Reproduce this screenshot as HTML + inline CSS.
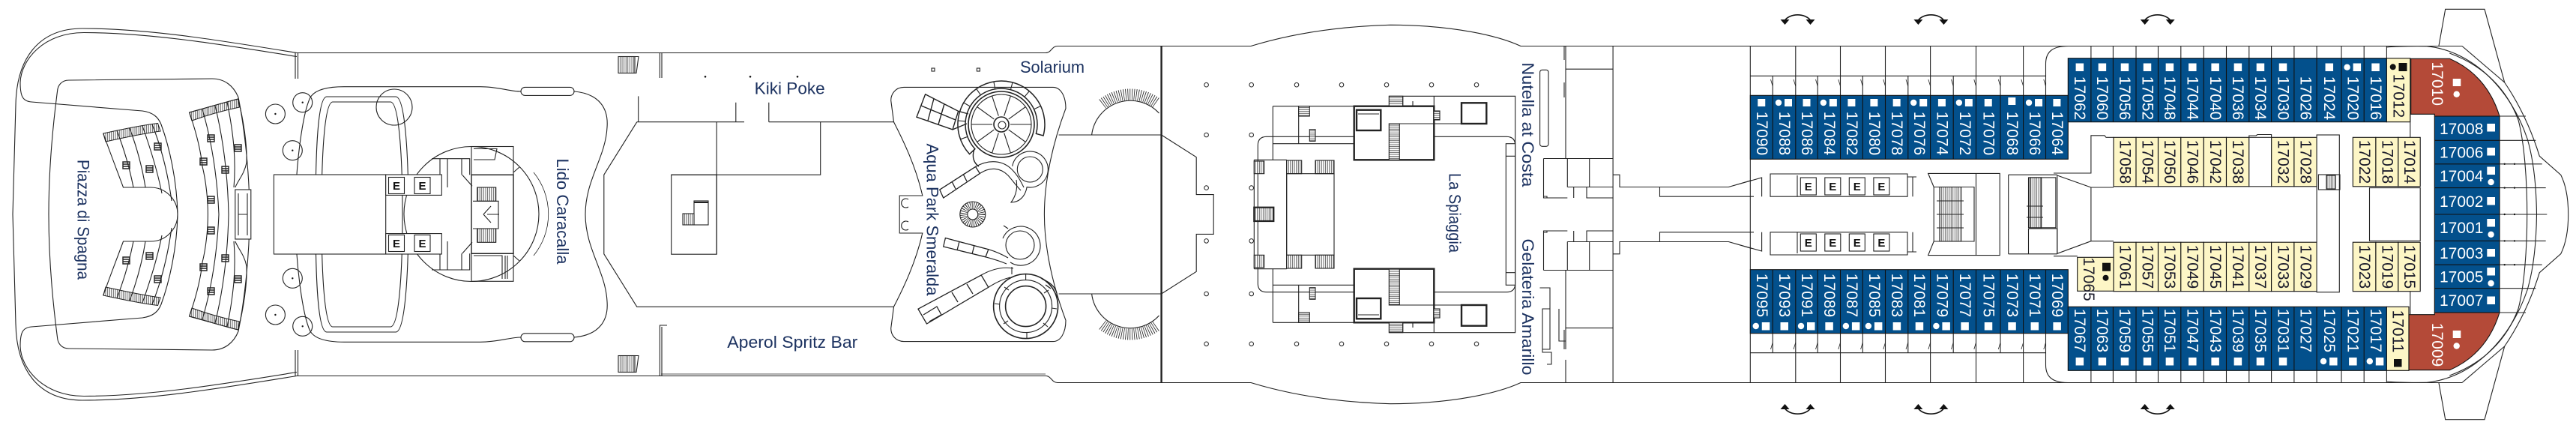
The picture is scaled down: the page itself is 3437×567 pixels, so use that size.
<!DOCTYPE html>
<html><head><meta charset="utf-8">
<style>
html,body{margin:0;padding:0;background:#fff}
svg{display:block}
.l{fill:none;stroke:#222;stroke-width:1.1}
.k{stroke-width:2.6}
.f{fill:#fff}
.lb{fill:#1c3260;font-family:"Liberation Sans",sans-serif;font-size:22px}
.cw{fill:#fff;font-family:"Liberation Sans",sans-serif;font-size:21px}
.cd{fill:#1a1a2a;font-family:"Liberation Sans",sans-serif;font-size:21px}
.e{fill:#111;font-family:"Liberation Sans",sans-serif;font-size:15px;font-weight:bold}
.w{fill:#fff;stroke:none}
.b{fill:#111;stroke:none}
</style></head><body>
<svg width="3437" height="567" viewBox="0 0 3437 567" xmlns="http://www.w3.org/2000/svg">
<defs>
<pattern id="hv" width="2.6" height="10" patternUnits="userSpaceOnUse"><rect width="2.6" height="10" fill="#fff"/><line x1="0.6" y1="0" x2="0.6" y2="10" stroke="#222" stroke-width="0.7"/></pattern>
<pattern id="hh" width="10" height="2.6" patternUnits="userSpaceOnUse"><rect width="10" height="2.6" fill="#fff"/><line x1="0" y1="0.6" x2="10" y2="0.6" stroke="#222" stroke-width="0.7"/></pattern>
</defs>
<rect width="3437" height="567" fill="#fff"/>

<!-- ============ STERN ============ -->
<g class="l">
<path d="M396,70.5 C300,55 200,38 110,38 C50,38 22,80 21,140 L17,286 L21,432 C22,492 50,534 110,534 C200,534 300,517 396,501.5"/>
<path d="M396,75.5 C300,60 200,43.5 112,43.5 C58,43.5 28,80 27,110 C27,128 30,135 42,136 L190,148 C204,150 211,156 215,166 C226,196 236,240 237,286 C236,332 226,376 215,406 C211,416 204,422 190,424 L42,436 C30,437 27,444 27,462 C28,492 58,528.5 112,528.5 C200,528.5 300,512 396,496.5"/>
<path d="M92,107 L283,105 C300,105 312,115 318,130 C326,170 333,230 333,286 C333,342 326,402 318,442 C312,457 300,467 283,467 L92,465 C82,465 77,458 76.5,450 C70,400 65,340 65,286 C65,232 70,172 76.5,122 C77,114 82,107 92,107 Z"/>
<!-- left stand -->
<path d="M137.8,178 C165,172 190,167 210.5,164.5 L214,175 C192,178 168,183 141,189 Z" fill="url(#hv)"/>
<path d="M137.8,394 C165,400 190,405 210.5,407.5 L214,397 C192,394 168,389 141,383 Z" fill="url(#hv)"/>
<path d="M137.8,178 C147,204 156,227 164.5,250 L201,250 A36,36 0 0 1 201,322 L164.5,322 C156,345 147,368 137.8,394"/>
<path d="M156,174.5 C166,200 173,225 178,250 M173,171 C183,198 190,224 194,250 M190,168 C200,196 210,228 216,258 M203,166 C215,196 224,232 229,268"/>
<path d="M156,397.5 C166,372 173,347 178,322 M173,401 C183,374 190,348 194,322 M190,404 C200,376 210,344 216,314 M203,406 C215,376 224,340 229,304"/>
<!-- right stand -->
<path d="M252.6,150 C275,144 298,137 317.6,132 L319.5,143 C300,147 278,153 256,161 Z" fill="url(#hv)"/>
<path d="M252.6,422 C275,428 298,435 317.6,440 L319.5,429 C300,425 278,419 256,411 Z" fill="url(#hv)"/>
<path d="M313.8,250 C318,240 326,232 329,217 C330,195 325,160 317.6,132 C298,137 275,144 252.6,150 C262,177 268,202 270,222 C275,242 277.4,267 277.4,286 C277.4,305 275,330 270,350 C268,370 262,395 252.6,422 C275,428 298,435 317.6,440 C325,412 330,377 329,355 C326,340 318,332 313.8,322"/>
<path d="M270,146 C283,190 290,240 292,286 C290,332 283,382 270,426 M287,141 C299,190 304,240 305,286 C304,332 299,382 287,431 M303,136 C312,180 315,215 312,250 M312,322 C315,357 312,392 303,436"/>
<rect x="313.8" y="253" width="21" height="66" class="f"/>
<path d="M318,258 V314 M330,258 V314 M318,286 H330"/>
<!-- seats -->
<g stroke-width="1.4">
<path d="M164,216 h9 v9 h-9 z M164,219 h9 M164,222 h9 M195,221 h9 v9 h-9 z M195,224 h9 M195,227 h9 M206,191 h9 v9 h-9 z M206,194 h9 M206,197 h9"/>
<path d="M164,343 h9 v9 h-9 z M164,346 h9 M164,349 h9 M195,337 h9 v9 h-9 z M195,340 h9 M195,343 h9 M206,368 h9 v9 h-9 z M206,371 h9 M206,374 h9"/>
<path d="M277,180 h9 v9 h-9 z M277,183 h9 M277,186 h9 M267,211 h9 v9 h-9 z M267,214 h9 M267,217 h9 M296,222 h9 v9 h-9 z M296,225 h9 M296,228 h9 M313,193 h9 v9 h-9 z M313,196 h9 M313,199 h9 M277,262 h9 v9 h-9 z M277,265 h9 M277,268 h9"/>
<path d="M277,303 h9 v9 h-9 z M277,306 h9 M277,309 h9 M267,352 h9 v9 h-9 z M267,355 h9 M267,358 h9 M296,340 h9 v9 h-9 z M296,343 h9 M296,346 h9 M313,368 h9 v9 h-9 z M313,371 h9 M313,374 h9 M277,384 h9 v9 h-9 z M277,387 h9 M277,390 h9"/>
</g>
<!-- tables -->
<circle cx="367.4" cy="152" r="13"/><circle cx="403.7" cy="136.7" r="13"/><circle cx="390.3" cy="200.7" r="13"/>
<circle cx="390.3" cy="371.3" r="13"/><circle cx="367.4" cy="420" r="13"/><circle cx="403.7" cy="435.3" r="13"/>
<path d="M394,70.5 V105 M397.5,71 V105 M394,467 V501.5 M397.5,467 V501"/>
</g>
<g class="b"><circle cx="367.4" cy="152" r="1.2"/><circle cx="403.7" cy="136.7" r="1.2"/><circle cx="390.3" cy="200.7" r="1.2"/><circle cx="390.3" cy="371.3" r="1.2"/><circle cx="367.4" cy="420" r="1.2"/><circle cx="403.7" cy="435.3" r="1.2"/></g>
<text class="lb" transform="translate(111,293) rotate(90)" text-anchor="middle" dominant-baseline="central" textLength="160" lengthAdjust="spacingAndGlyphs">Piazza di Spagna</text>

<!-- ============ HULL AFT / MID ============ -->
<g class="l">
<path d="M396,70.5 H1395 C1403,70.5 1403,61.5 1411,61.5 H1669 C1700,52 1760,36 1855,33.3 C1940,33.5 2000,48 2029,61.5 H3285"/>
<path d="M396,501.5 H1395 C1403,501.5 1403,510.5 1411,510.5 H1669 C1700,520 1760,536 1855,538.7 C1940,538.5 2000,524 2029,510.5 H3285"/>
<path d="M882,499 H1395" stroke-width="0.8"/>

<!-- Lido pool area -->
<path d="M459,115.7 L641,115.7 C665,115.7 680,122 695,122 M766,122 C800,125 812,145 810,170 C808,210 781,240 781,286 C781,332 808,362 810,402 C812,427 800,447 766,450 M695,450 C680,450 665,456.3 641,456.3 L459,456.3 C435,456.3 420,452 414,442 C404,422 394,352 394,286 C394,220 404,150 414,130 C420,120 435,115.7 459,115.7"/>
<rect x="695" y="116.4" width="71" height="11" rx="5.5"/>
<rect x="695" y="444.8" width="71" height="11" rx="5.5"/>
<path d="M436,129 L528,129 C540,129 545,200 545,286 C545,372 540,443 528,443 L436,443 C424,443 421,372 421,286 C421,200 424,129 436,129 Z"/>
<path d="M444,136 L521,136 C532,136 537,205 537,286 C537,367 532,436 521,436 L444,436 C433,436 429,367 429,286 C429,205 433,136 444,136 Z"/>
<circle cx="526" cy="143" r="24"/>
<circle cx="629" cy="285.5" r="90" class="f"/>
<path d="M712,230 A88,88 0 0 1 712,341" stroke-width="0.8"/>
<rect x="629" y="195.5" width="56" height="37.8"/>
<path d="M632,198.5 H663 L660,213 H632"/>
<rect x="629" y="233.3" width="56" height="105" stroke-width="1.4"/>
<rect x="629" y="338.3" width="56" height="37"/>
<path d="M632,341 H670 V372 M674,341 V372 M677,341 V372"/>
<rect x="636.7" y="250" width="25" height="18.3" fill="url(#hv)"/>
<rect x="636.7" y="305" width="25" height="18.3" fill="url(#hv)"/>
<path d="M631,268.3 H665 V305 H631 M645,286 L655,275 M645,286 L655,297 M650,286 H666 M685,230 L693,223 M685,341 L693,348"/>
<path d="M616.7,233.3 L630,248.3 M616.7,338.3 L630,323.3 M576,211.7 H626.7 V233.3 M576,360 H626.7 V338.3 M587,211.7 V250 M597,211.7 V250 M616,211.7 V233.3 M587,322 V360 M597,322 V360 M616,338.3 V360"/>
<rect x="365.4" y="233" width="149.3" height="106" class="f"/>
<rect x="514.7" y="233" width="74.6" height="27.4" class="f"/>
<rect x="514.7" y="311.6" width="74.6" height="27.4" class="f"/>
<rect x="518.5" y="236.5" width="21" height="22" class="f"/><rect x="553" y="236.5" width="21" height="22" class="f"/>
<rect x="518.5" y="313.5" width="21" height="22" class="f"/><rect x="553" y="313.5" width="21" height="22" class="f"/>
</g>
<text class="e" x="529" y="253" text-anchor="middle">E</text><text class="e" x="563.5" y="253" text-anchor="middle">E</text>
<text class="e" x="529" y="330" text-anchor="middle">E</text><text class="e" x="563.5" y="330" text-anchor="middle">E</text>
<text class="lb" transform="translate(750.3,282) rotate(90)" text-anchor="middle" dominant-baseline="central" textLength="141" lengthAdjust="spacingAndGlyphs">Lido Caracalla</text>

<!-- Kiki / Aperol area -->
<g class="l">
<rect x="825" y="75.5" width="22" height="22" fill="url(#hv)"/><path d="M847,75.5 L852,75.5 L849,97.5 H847"/>
<rect x="825" y="474.5" width="22" height="22" fill="url(#hv)"/><path d="M847,474.5 L852,474.5 L849,496.5 H847"/>
<path d="M880.4,70.5 V104 M883,70.5 V104 M890,434 H880.4 V501.5 M883,436 V501.5"/>
<path d="M851.7,128.4 V162.7 M981.8,136.7 V162.7 M1025.8,136.7 V162.7 M849.8,162.7 H993 M1025.8,162.7 H1192.5"/>
<path d="M849.8,162.7 L805.8,233.2 V338.8 L849.8,409.3 H1192.5"/>
<path d="M956.2,162.7 V339.2 M895.7,233.2 H1094.7 V162.7"/>
<rect x="895.7" y="233.2" width="60.5" height="106"/>
<rect x="926" y="268" width="19" height="32"/>
<rect x="911" y="285" width="15" height="15" fill="url(#hv)"/>
<path d="M926,270 H945" stroke-width="2"/>
</g>
<g class="b"><circle cx="941" cy="102.3" r="1.3"/><circle cx="1001" cy="102.3" r="1.3"/><circle cx="1064" cy="102.3" r="1.3"/></g>
<text class="lb" x="1006.7" y="125.5" textLength="94" lengthAdjust="spacingAndGlyphs">Kiki Poke</text>
<text class="lb" x="970.3" y="464" textLength="174" lengthAdjust="spacingAndGlyphs">Aperol Spritz Bar</text>

<!-- ============ AQUA PARK ============ -->
<g class="l">
<path d="M1206,116.4 L1405,116.4 C1415,116.4 1422,128 1422,144.6 C1405,190 1393.4,240 1393.4,286 C1393.4,332 1405,382 1422,427.4 C1422,444 1415,455.6 1405,455.6 L1206,455.6 C1195,455.6 1188.7,447 1188.7,438 L1192.5,409.3 C1205,385 1222,350 1230.8,311 L1200.2,311 L1200.2,261 L1230.8,261 C1222,222 1205,187 1192.5,162.7 L1188.7,134 C1188.7,125 1195,116.4 1206,116.4 Z"/>
<path d="M1212,266 A6,6 0 1 0 1212,276 M1212,296 A6,6 0 1 0 1212,306"/>
<rect x="1243" y="91" width="4" height="4"/><rect x="1303.4" y="91" width="4" height="4"/>
<!-- big slide top -->
<path d="M1293.6,205.6 A58,58 0 1 1 1392,181 L1382.4,178.4 A48,48 0 1 0 1300.9,198.7 Z" stroke-width="1.5"/>
<path d="M1290.9,182.4 L1281.5,185.8 M1288.2,161.8 L1278.2,161 M1294.4,142 L1285.8,137 M1308.4,126.7 L1302.7,118.5 M1327.7,118.7 L1325.9,108.9 M1348.4,119.6 L1351,110 M1366.9,129.2 L1373.3,121.6 M1379.5,145.7 L1388.5,141.5"/>
<circle cx="1336" cy="166" r="44" stroke-width="1.6"/>
<circle cx="1336" cy="166" r="40"/>
<path d="M1348,166 L1376,166 M1345.7,173.1 L1368.4,189.5 M1339.7,177.4 L1348.4,204 M1332.3,177.4 L1323.6,204 M1326.3,173.1 L1303.6,189.5 M1324,166 L1296,166 M1326.3,158.9 L1303.6,142.5 M1332.3,154.6 L1323.6,128 M1339.7,154.6 L1348.4,128 M1345.7,158.9 L1368.4,142.5"/>
<circle cx="1336" cy="166" r="10" stroke-width="1.6"/><circle cx="1337" cy="167" r="5"/>
<path d="M1300,199 C1296,210 1300,218 1306,222" stroke-width="1.4"/>
<!-- slides -->
<path d="M1234.6,125.8 L1278.6,148.3 L1271,172.9 L1223,156.2 Z M1229,141 L1275,160 M1246,131.5 L1238,161 M1260,138.5 L1252,166 M1278.6,148.3 L1292,152 M1271,172.9 L1290,165" stroke-width="1.4"/>
<path d="M1253.8,253.1 L1301.6,222.4 L1307.3,231.4 L1258.7,264 Z M1270,242 L1275,252 M1285,232 L1290,242" stroke-width="1.3"/>
<path d="M1301.6,222.4 C1320,212 1338,214 1350,226 C1358,234 1362,242 1366,250 M1307.3,231.4 C1322,222 1335,224 1345,234 C1352,242 1356,248 1362,254"/>
<path d="M1261.4,317.5 L1318.8,332.7 L1315,342.8 L1258.7,329 Z M1280,322 L1277,334 M1300,327 L1297,339" stroke-width="1.3"/>
<path d="M1318.8,332.7 C1330,336 1338,340 1345,344 M1315,342.8 C1327,346 1336,349 1343,352"/>
<path d="M1225,412.2 L1309.2,367 L1318.8,383.3 L1236.5,432 Z M1232,420 L1250,409 L1256,420 L1240,429 M1270,390 L1278,403 M1290,379 L1298,392" stroke-width="1.3"/>
<path d="M1309.2,367 C1325,358 1340,356 1352,358 M1318.8,383.3 C1330,376 1340,372 1348,370 M1350,356 V366"/>
<!-- bottom slide circle -->
<circle cx="1368.6" cy="408.6" r="43" stroke-width="1.6"/>
<circle cx="1368.6" cy="408.6" r="35"/>
<circle cx="1368.6" cy="408.6" r="27" stroke-width="1.6"/>
<path d="M1368.6,365.6 V373.6 M1399,387 L1393,391 M1410,412 L1403,411 M1398,436 L1392,431 M1370,451.6 V443.6 M1339,432 L1345,428 M1327,405 L1334,406 M1340,383 L1346,387"/>
<path d="M1390,372 C1405,378 1412,388 1410,398 M1395,380 L1402,385" stroke-width="1.3"/>
<!-- small rings -->
<circle cx="1374.3" cy="226" r="17"/>
<path d="M1350.7,221.8 A24,24 0 1 1 1370.1,249.6 C1368,262 1360,270 1349,270 C1355,262 1358,252 1356,240"/>
<circle cx="1361" cy="327" r="19"/>
<path d="M1338,318 A26,26 0 1 1 1348,350" />
<path d="M1339,301 L1345,305"/>
<circle cx="1297.8" cy="286" r="17"/>
<circle cx="1297.8" cy="286" r="12" stroke-width="9" stroke-dasharray="0.8 1.6"/>
<circle cx="1297.8" cy="286" r="7"/>
</g>
<text class="lb" transform="translate(1244.2,293) rotate(90)" text-anchor="middle" dominant-baseline="central" textLength="203" lengthAdjust="spacingAndGlyphs">Aqua Park Smeralda</text>
<text class="lb" x="1361" y="97" textLength="86" lengthAdjust="spacingAndGlyphs">Solarium</text>

<!-- ============ Solarium right / La Spiaggia ============ -->
<g class="l">
<path d="M1412.6,180 H1549.6 M1412.6,392 H1549.6"/>
<path d="M1456.6,180 A52,52 0 0 1 1546.5,151"/>
<path d="M1456.6,392 A52,52 0 0 0 1546.5,421"/>
<path d="M1471,138.7 A60,60 0 0 1 1543.3,137.5" stroke-width="15" stroke-dasharray="0.8 2"/>
<path d="M1471,433.3 A60,60 0 0 0 1543.3,434.5" stroke-width="15" stroke-dasharray="0.8 2"/>
<path d="M1549.6,61.5 V510.5" stroke-width="2.4"/>
<path d="M1549.6,180 L1596.2,209.7 V259.6 H1619.2 V312.4 H1596.2 V362.3 L1549.6,392"/>
<g stroke-width="1">
<circle cx="1609.6" cy="113.2" r="2.8"/><circle cx="1609.6" cy="180" r="2.8"/><circle cx="1609.6" cy="250.6" r="2.8"/><circle cx="1609.6" cy="321.4" r="2.8"/><circle cx="1609.6" cy="392" r="2.8"/><circle cx="1609.6" cy="458.8" r="2.8"/>
<circle cx="1669.7" cy="113.2" r="2.8"/><circle cx="1669.7" cy="180" r="2.8"/><circle cx="1669.7" cy="250.6" r="2.8"/><circle cx="1669.7" cy="321.4" r="2.8"/><circle cx="1669.7" cy="392" r="2.8"/><circle cx="1669.7" cy="458.8" r="2.8"/>
<circle cx="1730" cy="113.2" r="2.8"/><circle cx="1790" cy="113.2" r="2.8"/><circle cx="1850" cy="113.2" r="2.8"/><circle cx="1910" cy="113.2" r="2.8"/><circle cx="1970" cy="113.2" r="2.8"/>
<circle cx="1730" cy="458.8" r="2.8"/><circle cx="1790" cy="458.8" r="2.8"/><circle cx="1850" cy="458.8" r="2.8"/><circle cx="1910" cy="458.8" r="2.8"/><circle cx="1970" cy="458.8" r="2.8"/>
</g>
<path d="M1690,182.3 H2010 Q2021.7,182.3 2021.7,194 V378 Q2021.7,389.7 2010,389.7 H1690 Q1678.3,389.7 1678.3,378 V194 Q1678.3,182.3 1690,182.3 Z"/>
<!-- upper block -->
<path d="M1698.3,141.7 H1806.7 M1698.3,141.7 V213.3 M1732.7,141.7 V191.7 M1698.3,191.7 H1806.7 M1673.3,213.3 H1716.7 M1673.3,213.3 V358.7 M1716.7,213.3 V358.7 M1673.3,358.7 H1716.7"/>
<rect x="1732.7" y="141.7" width="14.6" height="13.3" fill="url(#hh)"/>
<rect x="1747.3" y="172.7" width="7.7" height="15.6" fill="url(#hh)"/>
<rect x="1716.7" y="214" width="20" height="17.7" fill="url(#hv)"/>
<rect x="1755" y="214" width="25" height="17.7" fill="url(#hv)"/>
<rect x="1673.3" y="215" width="13.4" height="16.7" fill="url(#hv)"/>
<rect x="1716.7" y="231.7" width="63.3" height="108.6"/>
<rect x="1673.3" y="276.7" width="26" height="18.3" stroke-width="2.2" fill="url(#hv)"/>
<rect x="1806.7" y="141.7" width="106.6" height="71.6" stroke-width="2.4" class="f"/>
<rect x="1810" y="146.7" width="32.3" height="27.3" stroke-width="2.4"/>
<path d="M1812,152 H1840"/>
<rect x="1853.3" y="165" width="14" height="48.3" fill="url(#hh)"/>
<rect x="1853.3" y="128.3" width="18.4" height="13.4" fill="url(#hh)"/>
<path d="M1853.3,128.3 H2021.7 V191.7 M1913.3,128.3 V213.3 M1867.3,165 H1951.7 M1871.7,128.3 V141.7 H1885 V135"/>
<rect x="1950" y="137.3" width="33.3" height="27.7" stroke-width="2.4"/>
<rect x="1913" y="148" width="8" height="12" fill="url(#hh)"/>
<!-- lower block (mirror) -->
<path d="M1698.3,430.3 H1806.7 M1698.3,430.3 V358.7 M1732.7,430.3 V380.3 M1698.3,380.3 H1806.7"/>
<rect x="1732.7" y="417" width="14.6" height="13.3" fill="url(#hh)"/>
<rect x="1747.3" y="383.7" width="7.7" height="15.6" fill="url(#hh)"/>
<rect x="1716.7" y="340.3" width="20" height="17.7" fill="url(#hv)"/>
<rect x="1755" y="340.3" width="25" height="17.7" fill="url(#hv)"/>
<rect x="1673.3" y="340.3" width="13.4" height="16.7" fill="url(#hv)"/>
<rect x="1806.7" y="358.7" width="106.6" height="71.6" stroke-width="2.4" class="f"/>
<rect x="1810" y="398" width="32.3" height="27.3" stroke-width="2.4"/>
<path d="M1812,420 H1840"/>
<rect x="1853.3" y="358.7" width="14" height="48.3" fill="url(#hh)"/>
<rect x="1853.3" y="430.3" width="18.4" height="13.4" fill="url(#hh)"/>
<path d="M1853.3,443.7 H2021.7 V380.3 M1913.3,443.7 V358.7 M1867.3,407 H1951.7 M1871.7,443.7 V430.3 H1885 V437"/>
<rect x="1950" y="407" width="33.3" height="27.7" stroke-width="2.4"/>
<rect x="1913" y="412" width="8" height="12" fill="url(#hh)"/>
<rect x="2009.3" y="191.7" width="12.4" height="188.6" class="f"/>
<path d="M2009.3,208.3 H2021.7 M2009.3,363.7 H2021.7"/>
<!-- Nutella / Gelateria -->
<rect x="2054.6" y="93.3" width="11.4" height="102" rx="3"/>
<path d="M2089,61.5 V211.5 M2087,61.5 V80 M2087,110 V130 M2089,92.2 H2152.1 M2152.1,61.5 V510.5"/>
<path d="M2059.5,211.5 H2152.1 M2059.5,211.5 V264 H2091.3 M2091.3,211.5 V249.5 M2120.7,211.5 V249.5 M2091.3,249.5 H2152.1 M2099.7,249.5 V264 M2117,249.5 V264 H2152.1 M2059.5,262 H2064 V264"/>
<path d="M2152.1,233.2 H2161 V249.5 H2306.3 L2337,240.5 M2214.5,249.5 V262.2 H2340 M2306.3,249.5 L2350.6,237 V262.2"/>
<path d="M2059.5,360.5 H2152.1 M2059.5,360.5 V308 H2091.3 M2091.3,360.5 V322.5 M2120.7,360.5 V322.5 M2091.3,322.5 H2152.1 M2099.7,322.5 V308 M2117,322.5 V308 H2152.1 M2059.5,310 H2064 V308"/>
<path d="M2152.1,338.8 H2161 V322.5 H2306.3 L2337,331.5 M2214.5,322.5 V309.8 H2340 M2306.3,322.5 L2350.6,335 V309.8"/>
<path d="M2089,360.5 V466 M2089,480 V510.5 M2087,440 V466 M2089,437.6 H2152.1"/>
<path d="M2054.5,384 H2068 V412 H2058 V466 H2068 V412 M2058,466 V470 H2070 V486 H2064"/>
<path d="M2080,412 V455 H2089"/>
</g>
<text class="lb" transform="translate(1941,284) rotate(90)" text-anchor="middle" dominant-baseline="central" textLength="106" lengthAdjust="spacingAndGlyphs">La Spiaggia</text>
<text class="lb" transform="translate(2038.5,166.4) rotate(90)" text-anchor="middle" dominant-baseline="central" textLength="166" lengthAdjust="spacingAndGlyphs">Nutella at Costa</text>
<text class="lb" transform="translate(2038.5,409.5) rotate(90)" text-anchor="middle" dominant-baseline="central" textLength="182" lengthAdjust="spacingAndGlyphs">Gelateria Amarillo</text>

<!-- ============ CABIN SECTION ============ -->
<g class="l">
<path d="M2335.3,61.5 V510.5"/>
<path d="M2335.3,101.3 H2729.5 M2395.8,61.5 V101.3 M2455.5,61.5 V101.3 M2515.5,61.5 V101.3 M2575.6,61.5 V101.3 M2636.5,61.5 V101.3 M2699.6,61.5 V101.3"/>
<path d="M2335.3,470.7 H2729.5 M2395.8,470.7 V510.5 M2455.5,470.7 V510.5 M2515.5,470.7 V510.5 M2575.6,470.7 V510.5 M2636.5,470.7 V510.5 M2699.6,470.7 V510.5"/>
<path d="M2759.3,61.5 C2740,61.5 2729.5,68 2729.5,85 V127.3 M2759.3,510.5 C2740,510.5 2729.5,504 2729.5,487 V444.7"/>
<path d="M2365.2,101.3 V127.3 M2395.8,101.3 V127.3 M2425.2,101.3 V127.3 M2455.5,101.3 V127.3 M2485.3,101.3 V127.3 M2515.5,101.3 V127.3 M2545.8,101.3 V127.3 M2575.6,101.3 V127.3 M2606.2,101.3 V127.3 M2636.5,101.3 V127.3 M2669,101.3 V127.3 M2699.6,101.3 V127.3"/>
<path d="M2365.2,444.7 V470.7 M2395.8,444.7 V470.7 M2425.2,444.7 V470.7 M2455.5,444.7 V470.7 M2485.3,444.7 V470.7 M2515.5,444.7 V470.7 M2545.8,444.7 V470.7 M2575.6,444.7 V470.7 M2606.2,444.7 V470.7 M2636.5,444.7 V470.7 M2669,444.7 V470.7 M2699.6,444.7 V470.7"/>
<path stroke-width="0.8" d="M2362.5,106 l2.7,9 M2393,106 l2.8,9 M2422.5,106 l2.7,9 M2452.8,106 l2.7,9 M2482.6,106 l2.7,9 M2512.8,106 l2.7,9 M2543,106 l2.8,9 M2572.9,106 l2.7,9 M2603.5,106 l2.7,9 M2633.8,106 l2.7,9 M2666.3,106 l2.7,9 M2696.9,106 l2.7,9 M2726.8,106 l2.7,9"/>
<path stroke-width="0.8" d="M2362.5,466 l2.7,-9 M2393,466 l2.8,-9 M2422.5,466 l2.7,-9 M2452.8,466 l2.7,-9 M2482.6,466 l2.7,-9 M2512.8,466 l2.7,-9 M2543,466 l2.8,-9 M2572.9,466 l2.7,-9 M2603.5,466 l2.7,-9 M2633.8,466 l2.7,-9 M2666.3,466 l2.7,-9 M2696.9,466 l2.7,-9 M2726.8,466 l2.7,-9"/>
<path d="M2789.9,61.5 V77.7 M2819.4,61.5 V77.7 M2850,61.5 V77.7 M2879.5,61.5 V77.7 M2909.8,61.5 V77.7 M2940.3,61.5 V77.7 M2970.5,61.5 V77.7 M3000.8,61.5 V77.7 M3030.6,61.5 V77.7 M3060.9,61.5 V77.7 M3091.1,61.5 V77.7 M3124,61.5 V77.7 M3154.2,61.5 V77.7 M3184.4,61.5 V77.7"/>
<path d="M2789.9,494.3 V510.5 M2819.4,494.3 V510.5 M2850,494.3 V510.5 M2879.5,494.3 V510.5 M2909.8,494.3 V510.5 M2940.3,494.3 V510.5 M2970.5,494.3 V510.5 M3000.8,494.3 V510.5 M3030.6,494.3 V510.5 M3060.9,494.3 V510.5 M3091.1,494.3 V510.5 M3124,494.3 V510.5 M3154.2,494.3 V510.5 M3184.4,494.3 V510.5"/>
<!-- E blocks -->
<path d="M2362,232 H2545 V262.2 H2362 Z M2545,236 H2557 M2552,236 V262.2 M2398,234 V262.2"/>
<path d="M2362,340 H2545 V309.8 H2362 Z M2545,336 H2557 M2552,336 V309.8 M2398,338 V309.8"/>
<rect x="2402.3" y="237" width="21" height="23" class="f"/><rect x="2434.8" y="237" width="21" height="23" class="f"/><rect x="2467.3" y="237" width="21" height="23" class="f"/><rect x="2499.9" y="237" width="21" height="23" class="f"/>
<rect x="2402.3" y="312" width="21" height="23" class="f"/><rect x="2434.8" y="312" width="21" height="23" class="f"/><rect x="2467.3" y="312" width="21" height="23" class="f"/><rect x="2499.9" y="312" width="21" height="23" class="f"/>
<!-- stairs -->
<path d="M2572.6,231.4 H2668.2 V340.6 H2572.6 L2580.2,322 V249.5 Z M2580.2,249.5 H2634 V322 H2580.2 M2636.5,231.4 V340.6"/>
<rect x="2587.9" y="249.5" width="28.7" height="72.5" fill="url(#hv)"/>
<path d="M2584,268 H2620 M2584,286 H2620 M2584,304 H2620"/>
<path d="M2679.7,233.2 H2744.8 M2679.7,338.8 H2744.8 M2679.7,233.2 V338.8"/>
<rect x="2706.5" y="236.9" width="36.4" height="66.9"/>
<rect x="2708.4" y="236.9" width="15.3" height="66.9" fill="url(#hv)"/>
<path d="M2706.5,305 H2744.8 V338.8 M2706.5,305 V338.8 M2704,275 H2726 M2704,290 H2726"/>
<path d="M2740,231 H2789.9 V180.8 H2808 L2810,183.3 H2820 M2744.8,234 L2789.9,250 V321.7 L2744.8,338.3 Z M2789.9,250 H2820 M2789.9,321.7 H2820 M2740,341.7 H2771.7"/>
</g>
<g class="e"><text x="2412.8" y="254" text-anchor="middle">E</text><text x="2445.3" y="254" text-anchor="middle">E</text><text x="2477.8" y="254" text-anchor="middle">E</text><text x="2510.4" y="254" text-anchor="middle">E</text>
<text x="2412.8" y="329" text-anchor="middle">E</text><text x="2445.3" y="329" text-anchor="middle">E</text><text x="2477.8" y="329" text-anchor="middle">E</text><text x="2510.4" y="329" text-anchor="middle">E</text></g>

<!-- Blue rows -->
<g stroke="#111" stroke-width="1.1">
<rect x="2335.3" y="127.3" width="424" height="85" fill="#03508c"/>
<rect x="2335.3" y="359.7" width="424" height="85" fill="#03508c"/>
<rect x="2759.3" y="77.7" width="425.1" height="85" fill="#03508c"/>
<rect x="2759.3" y="409.3" width="425.1" height="85" fill="#03508c"/>
<path fill="none" d="M2365.2,127.3 V212.3 M2395.8,127.3 V212.3 M2425.2,127.3 V212.3 M2455.5,127.3 V212.3 M2485.3,127.3 V212.3 M2515.5,127.3 V212.3 M2545.8,127.3 V212.3 M2575.6,127.3 V212.3 M2606.2,127.3 V212.3 M2636.5,127.3 V212.3 M2669,127.3 V212.3 M2699.6,127.3 V212.3 M2729.5,127.3 V212.3"/>
<path fill="none" d="M2365.2,359.7 V444.7 M2395.8,359.7 V444.7 M2425.2,359.7 V444.7 M2455.5,359.7 V444.7 M2485.3,359.7 V444.7 M2515.5,359.7 V444.7 M2545.8,359.7 V444.7 M2575.6,359.7 V444.7 M2606.2,359.7 V444.7 M2636.5,359.7 V444.7 M2669,359.7 V444.7 M2699.6,359.7 V444.7 M2729.5,359.7 V444.7"/>
<path fill="none" d="M2789.9,77.7 V162.7 M2819.4,77.7 V162.7 M2850,77.7 V162.7 M2879.5,77.7 V162.7 M2909.8,77.7 V162.7 M2940.3,77.7 V162.7 M2970.5,77.7 V162.7 M3000.8,77.7 V162.7 M3030.6,77.7 V162.7 M3060.9,77.7 V162.7 M3091.1,77.7 V162.7 M3124,77.7 V162.7 M3154.2,77.7 V162.7"/>
<path fill="none" d="M2789.9,409.3 V494.3 M2819.4,409.3 V494.3 M2850,409.3 V494.3 M2879.5,409.3 V494.3 M2909.8,409.3 V494.3 M2940.3,409.3 V494.3 M2970.5,409.3 V494.3 M3000.8,409.3 V494.3 M3030.6,409.3 V494.3 M3060.9,409.3 V494.3 M3091.1,409.3 V494.3 M3124,409.3 V494.3 M3154.2,409.3 V494.3"/>
<!-- yellow -->
<g fill="#fdf6c6">
<rect x="3184.4" y="77.7" width="31.4" height="85"/>
<rect x="3184.4" y="409.3" width="29.6" height="85"/>
<rect x="2820" y="183.3" width="30" height="65.5"/><rect x="2850" y="183.3" width="29.5" height="65.5"/><rect x="2879.5" y="183.3" width="30.3" height="65.5"/><rect x="2909.8" y="183.3" width="30.5" height="65.5"/><rect x="2940.3" y="183.3" width="30.2" height="65.5"/><rect x="2970.5" y="183.3" width="30.3" height="65.5"/>
<rect x="3030.6" y="183.3" width="30.3" height="65.5"/><rect x="3060.9" y="183.3" width="30.2" height="65.5"/>
<rect x="2820" y="323.2" width="30" height="65.5"/><rect x="2850" y="323.2" width="29.5" height="65.5"/><rect x="2879.5" y="323.2" width="30.3" height="65.5"/><rect x="2909.8" y="323.2" width="30.5" height="65.5"/><rect x="2940.3" y="323.2" width="30.2" height="65.5"/><rect x="2970.5" y="323.2" width="30.3" height="65.5"/><rect x="3000.8" y="323.2" width="29.8" height="65.5"/>
<rect x="3030.6" y="323.2" width="30.3" height="65.5"/><rect x="3060.9" y="323.2" width="30.2" height="65.5"/>
<rect x="3139.3" y="183.3" width="30.6" height="65.5"/><rect x="3169.9" y="183.3" width="29.9" height="65.5"/><rect x="3199.8" y="183.3" width="29.4" height="65.5"/>
<rect x="3139.3" y="323.2" width="30.6" height="65.5"/><rect x="3169.9" y="323.2" width="29.9" height="65.5"/><rect x="3199.8" y="323.2" width="29.4" height="65.5"/>
<rect x="2771.7" y="343.3" width="48.3" height="45"/>
</g>
<!-- red -->
<path fill="#b44a38" d="M3216.7,78.3 H3268.3 Q3318,100 3335,155 H3248.3 V152.3 H3216.7 Z"/>
<path fill="#b44a38" d="M3214,493.7 H3268.3 Q3318,472 3335,417 H3248.3 V419.7 H3214 Z"/>
<!-- right column -->
<rect x="3248.3" y="155" width="86.7" height="262" fill="#03508c"/>
<path fill="none" d="M3248.3,187.3 H3335 M3248.3,218.8 H3335 M3248.3,250.6 H3335 M3248.3,286 H3335 M3248.3,321.4 H3335 M3248.3,353.2 H3335 M3248.3,384.7 H3335"/>
</g>
<g class="l">
<rect x="3000.8" y="183.3" width="29.8" height="65.5" class="f"/>
<path d="M3000.8,183.3 V181 H3010 L3012,179.5 H3030.6 V183.3"/>
<rect x="3091.1" y="180" width="30.2" height="209.8" class="f"/>
<rect x="3093.4" y="233" width="28.6" height="20"/>
<rect x="3104" y="234" width="12" height="18" fill="url(#hv)"/>
<rect x="3161.5" y="250.6" width="67.7" height="70.8" class="f"/>
<path d="M3215.8,152.3 V183.3 M3215.8,388.7 V419.7"/>
<!-- bow -->
<path d="M3254,61 L3262.7,12.3 H3315 L3341.7,110 M3254,511 L3262.7,559.7 H3315 L3341.7,462"/>
<path d="M3285,61.5 L3341.7,110 C3362,140 3378,175 3388.3,208.3 L3416.7,233.3 C3424,248 3426.7,265 3426.7,286 C3426.7,307 3424,324 3416.7,338.7 L3388.3,363.7 C3378,397 3362,432 3341.7,462 L3285,510.5"/>
<path d="M3238,61.7 C3300,68 3350,120 3372,185 C3381,215 3384,250 3384.5,286 C3384,322 3381,357 3372,387 C3350,452 3300,504 3238,510.3"/>
<path d="M3268.3,71 C3315,88 3345,120 3360,160 C3368,190 3371.7,240 3371.7,286 C3371.7,332 3368,382 3360,412 C3345,452 3315,484 3268.3,501"/>
<path d="M3335,155 H3370 M3335,187.3 H3383.3 M3335,218.8 H3391.7 M3335,250.6 H3396.7 M3335,286 H3398.3 M3335,321.4 H3396.7 M3335,353.2 H3391.7 M3335,384.7 H3383.3 M3335,417 H3370"/>
<path d="M3184.4,63 C3200,61.5 3220,61.5 3238,61.7 M3184.4,509 C3200,510.5 3220,510.5 3238,510.3"/>
</g>
<g class="b"><circle cx="3341.7" cy="218.8" r="1.2"/><circle cx="3355" cy="218.8" r="1.2"/><circle cx="3341.7" cy="250.6" r="1.2"/><circle cx="3355" cy="250.6" r="1.2"/><circle cx="3341.7" cy="286" r="1.2"/><circle cx="3355" cy="286" r="1.2"/><circle cx="3341.7" cy="321.4" r="1.2"/><circle cx="3355" cy="321.4" r="1.2"/><circle cx="3341.7" cy="353.2" r="1.2"/><circle cx="3355" cy="353.2" r="1.2"/></g>

<!-- icons: top-left row -->
<g class="w">
<rect x="2345.25" y="132" width="10" height="10"/>
<circle cx="2373" cy="137" r="4.2"/><rect x="2381" y="132" width="10" height="10"/>
<rect x="2405.5" y="132" width="10" height="10"/>
<circle cx="2432.85" cy="137" r="4.2"/><rect x="2440.85" y="132" width="10" height="10"/>
<rect x="2465.4" y="132" width="10" height="10"/>
<rect x="2495.4" y="132" width="10" height="10"/>
<rect x="2525.65" y="132" width="10" height="10"/>
<circle cx="2553.2" cy="137" r="4.2"/><rect x="2561.2" y="132" width="10" height="10"/>
<rect x="2585.9" y="132" width="10" height="10"/>
<circle cx="2613.85" cy="137" r="4.2"/><rect x="2621.85" y="132" width="10" height="10"/>
<rect x="2647.75" y="132" width="10" height="10"/>
<rect x="2679.3" y="130" width="10" height="10"/>
<circle cx="2707.05" cy="137" r="4.2"/><rect x="2715.05" y="132" width="10" height="10"/>
<rect x="2739.4" y="132" width="10" height="10"/>
<!-- bottom-left -->
<circle cx="2342.75" cy="435" r="4.2"/><rect x="2350.75" y="430" width="10.5" height="10.5"/>
<rect x="2375.5" y="430" width="10.5" height="10.5"/>
<circle cx="2403" cy="435" r="4.2"/><rect x="2411" y="430" width="10.5" height="10.5"/>
<rect x="2435.35" y="430" width="10.5" height="10.5"/>
<circle cx="2462.9" cy="435" r="4.2"/><rect x="2470.9" y="430" width="10.5" height="10.5"/>
<circle cx="2492.9" cy="435" r="4.2"/><rect x="2500.9" y="430" width="10.5" height="10.5"/>
<rect x="2525.65" y="430" width="10.5" height="10.5"/>
<rect x="2555.7" y="430" width="10.5" height="10.5"/>
<circle cx="2583.4" cy="435" r="4.2"/><rect x="2591.4" y="430" width="10.5" height="10.5"/>
<rect x="2616.35" y="430" width="10.5" height="10.5"/>
<rect x="2647.75" y="430" width="10.5" height="10.5"/>
<rect x="2679.3" y="430" width="10.5" height="10.5"/>
<rect x="2709.55" y="430" width="10.5" height="10.5"/>
<rect x="2739.4" y="430" width="10.5" height="10.5"/>
<!-- top-right -->
<rect x="2769.6" y="84.5" width="10.5" height="10.5"/><rect x="2799.65" y="84.5" width="10.5" height="10.5"/><rect x="2829.7" y="84.5" width="10.5" height="10.5"/><rect x="2859.75" y="84.5" width="10.5" height="10.5"/><rect x="2889.65" y="84.5" width="10.5" height="10.5"/><rect x="2920.05" y="84.5" width="10.5" height="10.5"/><rect x="2950.4" y="84.5" width="10.5" height="10.5"/><rect x="2980.65" y="84.5" width="10.5" height="10.5"/><rect x="3010.7" y="84.5" width="10.5" height="10.5"/><rect x="3040.75" y="84.5" width="10.5" height="10.5"/>
<rect x="3102.55" y="84.5" width="10.5" height="10.5"/>
<circle cx="3131.6" cy="89.7" r="4.2"/><rect x="3139.6" y="84.5" width="10.5" height="10.5"/>
<rect x="3164.3" y="84.5" width="10.5" height="10.5"/>
<!-- bottom-right -->
<rect x="2769.6" y="477" width="10.5" height="10.5"/><rect x="2799.65" y="477" width="10.5" height="10.5"/><rect x="2829.7" y="477" width="10.5" height="10.5"/><rect x="2859.75" y="477" width="10.5" height="10.5"/><rect x="2889.65" y="477" width="10.5" height="10.5"/><rect x="2920.05" y="477" width="10.5" height="10.5"/><rect x="2950.4" y="477" width="10.5" height="10.5"/><rect x="2980.65" y="477" width="10.5" height="10.5"/><rect x="3010.7" y="477" width="10.5" height="10.5"/><rect x="3040.75" y="477" width="10.5" height="10.5"/>
<circle cx="3100.05" cy="482" r="4.2"/><rect x="3108.05" y="477" width="10.5" height="10.5"/>
<rect x="3134.1" y="477" width="10.5" height="10.5"/>
<circle cx="3161.8" cy="482" r="4.2"/><rect x="3169.8" y="477" width="10.5" height="10.5"/>
<!-- red cabins -->
<rect x="3272.7" y="105" width="10.6" height="10"/><circle cx="3277.7" cy="125.7" r="4.2"/>
<rect x="3272.7" y="441" width="10.6" height="10"/><circle cx="3277.7" cy="461.5" r="4.2"/>
<!-- right column -->
<rect x="3318.3" y="165" width="10.7" height="10.5"/>
<rect x="3318.3" y="197" width="10.7" height="10.5"/>
<rect x="3318.3" y="222.5" width="10.7" height="10.5"/><circle cx="3323.6" cy="243" r="4.2"/>
<rect x="3318.3" y="263" width="10.7" height="10.5"/>
<rect x="3318.3" y="292" width="10.7" height="10.5"/><circle cx="3323.6" cy="312.8" r="4.2"/>
<rect x="3318.3" y="332" width="10.7" height="10.5"/>
<rect x="3318.3" y="357" width="10.7" height="10.5"/><circle cx="3323.6" cy="378" r="4.2"/>
<rect x="3318.3" y="395.5" width="10.7" height="10.5"/>
</g>
<g class="b">
<circle cx="3192.7" cy="89.3" r="4"/><rect x="3200.5" y="84" width="11" height="11"/>
<rect x="3194" y="479" width="10.5" height="10.5"/>
<rect x="2805" y="350.7" width="11" height="11"/><circle cx="2809.5" cy="370.7" r="4"/>
</g>

<!-- cabin labels -->
<g class="cw" text-anchor="middle" dominant-baseline="central">
<text transform="translate(2350.25,178) rotate(90)">17090</text>
<text transform="translate(2380.5,178) rotate(90)">17088</text>
<text transform="translate(2410.5,178) rotate(90)">17086</text>
<text transform="translate(2440.35,178) rotate(90)">17084</text>
<text transform="translate(2470.4,178) rotate(90)">17082</text>
<text transform="translate(2500.4,178) rotate(90)">17080</text>
<text transform="translate(2530.65,178) rotate(90)">17078</text>
<text transform="translate(2560.7,178) rotate(90)">17076</text>
<text transform="translate(2590.9,178) rotate(90)">17074</text>
<text transform="translate(2621.35,178) rotate(90)">17072</text>
<text transform="translate(2652.75,178) rotate(90)">17070</text>
<text transform="translate(2684.3,178) rotate(90)">17068</text>
<text transform="translate(2714.55,178) rotate(90)">17066</text>
<text transform="translate(2744.4,178) rotate(90)">17064</text>
<text transform="translate(2350.25,394) rotate(90)">17095</text>
<text transform="translate(2380.5,394) rotate(90)">17093</text>
<text transform="translate(2410.5,394) rotate(90)">17091</text>
<text transform="translate(2440.35,394) rotate(90)">17089</text>
<text transform="translate(2470.4,394) rotate(90)">17087</text>
<text transform="translate(2500.4,394) rotate(90)">17085</text>
<text transform="translate(2530.65,394) rotate(90)">17083</text>
<text transform="translate(2560.7,394) rotate(90)">17081</text>
<text transform="translate(2590.9,394) rotate(90)">17079</text>
<text transform="translate(2621.35,394) rotate(90)">17077</text>
<text transform="translate(2652.75,394) rotate(90)">17075</text>
<text transform="translate(2684.3,394) rotate(90)">17073</text>
<text transform="translate(2714.55,394) rotate(90)">17071</text>
<text transform="translate(2744.4,394) rotate(90)">17069</text>
<text transform="translate(2774.6,131) rotate(90)">17062</text>
<text transform="translate(2804.65,131) rotate(90)">17060</text>
<text transform="translate(2834.7,131) rotate(90)">17056</text>
<text transform="translate(2864.75,131) rotate(90)">17052</text>
<text transform="translate(2894.65,131) rotate(90)">17048</text>
<text transform="translate(2925.05,131) rotate(90)">17044</text>
<text transform="translate(2955.4,131) rotate(90)">17040</text>
<text transform="translate(2985.65,131) rotate(90)">17036</text>
<text transform="translate(3015.7,131) rotate(90)">17034</text>
<text transform="translate(3045.75,131) rotate(90)">17030</text>
<text transform="translate(3076,131) rotate(90)">17026</text>
<text transform="translate(3107.55,131) rotate(90)">17024</text>
<text transform="translate(3139.1,131) rotate(90)">17020</text>
<text transform="translate(3169.3,131) rotate(90)">17016</text>
<text transform="translate(2774.6,441) rotate(90)">17067</text>
<text transform="translate(2804.65,441) rotate(90)">17063</text>
<text transform="translate(2834.7,441) rotate(90)">17059</text>
<text transform="translate(2864.75,441) rotate(90)">17055</text>
<text transform="translate(2894.65,441) rotate(90)">17051</text>
<text transform="translate(2925.05,441) rotate(90)">17047</text>
<text transform="translate(2955.4,441) rotate(90)">17043</text>
<text transform="translate(2985.65,441) rotate(90)">17039</text>
<text transform="translate(3015.7,441) rotate(90)">17035</text>
<text transform="translate(3045.75,441) rotate(90)">17031</text>
<text transform="translate(3076,441) rotate(90)">17027</text>
<text transform="translate(3107.55,441) rotate(90)">17025</text>
<text transform="translate(3139.1,441) rotate(90)">17021</text>
<text transform="translate(3169.3,441) rotate(90)">17017</text>
<text transform="translate(3251.7,111.7) rotate(90)">17010</text>
<text transform="translate(3251.7,460) rotate(90)">17009</text>
</g>
<g class="cd" text-anchor="middle" dominant-baseline="central">
<text transform="translate(3200.1,128) rotate(90)">17012</text>
<text transform="translate(3199.2,442) rotate(90)">17011</text>
<text transform="translate(2835,216) rotate(90)">17058</text>
<text transform="translate(2864.75,216) rotate(90)">17054</text>
<text transform="translate(2894.65,216) rotate(90)">17050</text>
<text transform="translate(2925.05,216) rotate(90)">17046</text>
<text transform="translate(2955.4,216) rotate(90)">17042</text>
<text transform="translate(2985.65,216) rotate(90)">17038</text>
<text transform="translate(3045.75,216) rotate(90)">17032</text>
<text transform="translate(3076,216) rotate(90)">17028</text>
<text transform="translate(3154.6,216) rotate(90)">17022</text>
<text transform="translate(3184.85,216) rotate(90)">17018</text>
<text transform="translate(3214.5,216) rotate(90)">17014</text>
<text transform="translate(2835,356) rotate(90)">17061</text>
<text transform="translate(2864.75,356) rotate(90)">17057</text>
<text transform="translate(2894.65,356) rotate(90)">17053</text>
<text transform="translate(2925.05,356) rotate(90)">17049</text>
<text transform="translate(2955.4,356) rotate(90)">17045</text>
<text transform="translate(2985.65,356) rotate(90)">17041</text>
<text transform="translate(3015.7,356) rotate(90)">17037</text>
<text transform="translate(3045.75,356) rotate(90)">17033</text>
<text transform="translate(3076,356) rotate(90)">17029</text>
<text transform="translate(3154.6,356) rotate(90)">17023</text>
<text transform="translate(3184.85,356) rotate(90)">17019</text>
<text transform="translate(3214.5,356) rotate(90)">17015</text>
<text transform="translate(2786.7,372.5) rotate(90)">17065</text>
</g>
<g class="cw">
<text x="3255" y="179">17008</text>
<text x="3255" y="210.5">17006</text>
<text x="3255" y="242">17004</text>
<text x="3255" y="276">17002</text>
<text x="3255" y="311">17001</text>
<text x="3255" y="345">17003</text>
<text x="3255" y="376.5">17005</text>
<text x="3255" y="408">17007</text>
</g>

<!-- arrows -->
<g fill="none" stroke="#111" stroke-width="1.6">
<path d="M2381.5,27 A19,13 0 0 1 2415.5,27"/><path d="M2559.4,27 A19,13 0 0 1 2593.4,27"/><path d="M2861.7,27 A19,13 0 0 1 2895.7,27"/>
<path d="M2381.5,545 A19,13 0 0 0 2415.5,545"/><path d="M2559.4,545 A19,13 0 0 0 2593.4,545"/><path d="M2861.7,545 A19,13 0 0 0 2895.7,545"/>
</g>
<g fill="#111">
<path d="M2375.5,26 H2387.5 L2381.5,33 Z M2409.5,26 H2421.5 L2415.5,33 Z"/>
<path d="M2553.4,26 H2565.4 L2559.4,33 Z M2587.4,26 H2599.4 L2593.4,33 Z"/>
<path d="M2855.7,26 H2867.7 L2861.7,33 Z M2889.7,26 H2901.7 L2895.7,33 Z"/>
<path d="M2375.5,546 H2387.5 L2381.5,539 Z M2409.5,546 H2421.5 L2415.5,539 Z"/>
<path d="M2553.4,546 H2565.4 L2559.4,539 Z M2587.4,546 H2599.4 L2593.4,539 Z"/>
<path d="M2855.7,546 H2867.7 L2861.7,539 Z M2889.7,546 H2901.7 L2895.7,539 Z"/>
</g>
</svg>
</body></html>
